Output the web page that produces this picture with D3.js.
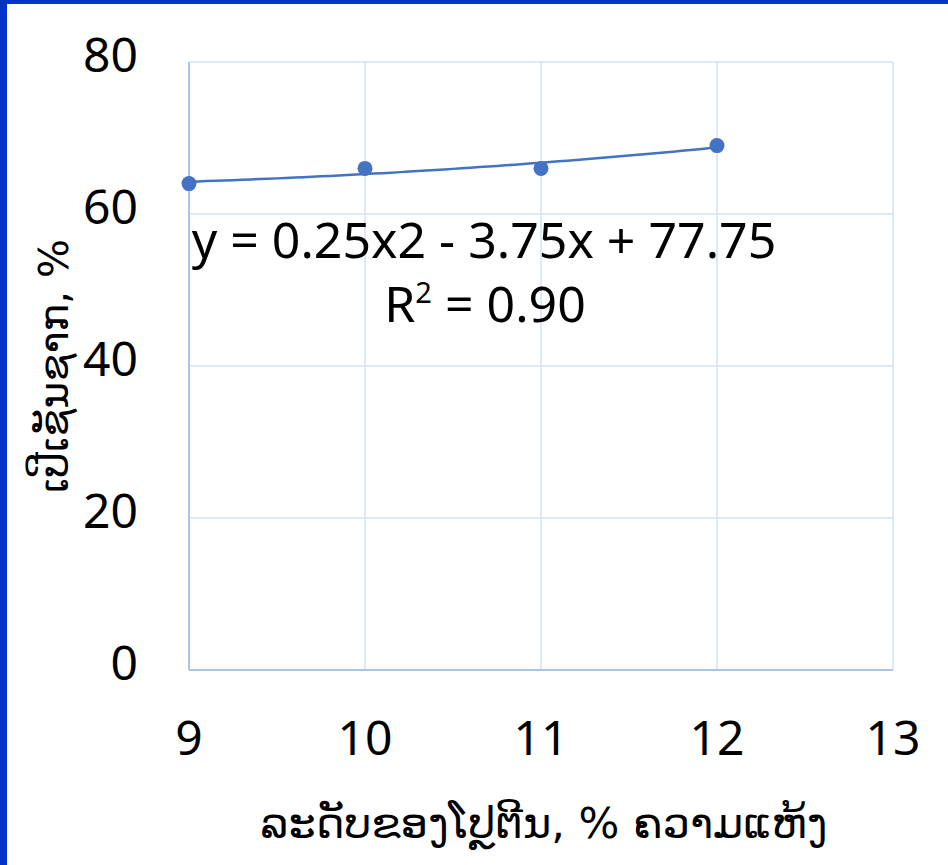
<!DOCTYPE html>
<html>
<head>
<meta charset="utf-8">
<script src="https://cdn.jsdelivr.net/npm/d3@7"></script>
<style>
  html, body { margin: 0; padding: 0; background: #fff; }
  svg { display: block; }
</style>
</head>
<body>
<div id="chart"></div>
<script>
// protein level (% dry matter) vs carcass percentage
const proteinLevels = [9, 10, 11, 12];
const carcassPct = [64, 66, 66, 69];
const xTicks = [9, 10, 11, 12, 13];
const yTicks = [0, 20, 40, 60, 80];
const xTitle = 'ລະດັບຂອງໂປຼຕີນ, % ຄວາມແຫ້ງ';
const yTitle = 'ເປີເຊັນຊາກ, %';

const width = 948, height = 865;
const margin = { top: 62, right: 55, bottom: 195, left: 189 };

const svg = d3.select('#chart').append('svg')
    .attr('width', width)
    .attr('height', height);

svg.append('rect').attr('width', width).attr('height', height).style('fill', '#fff');

// blue frame bits at left and top
svg.append('rect').attr('x', 0).attr('y', 0).attr('width', 7).attr('height', height).style('fill', '#0033cc');
svg.append('rect').attr('x', 0).attr('y', 0).attr('width', width).attr('height', 4).style('fill', '#0033cc');

const x = d3.scaleLinear().domain([9, 13]).range([margin.left, width - margin.right]);
const y = d3.scaleLinear().domain([0, 80]).range([height - margin.bottom, margin.top]);

// gridlines
svg.append('g').selectAll('line.h').data(yTicks.filter(d => d > 0)).enter().append('line')
    .attr('x1', x(9)).attr('x2', x(13))
    .attr('y1', d => y(d)).attr('y2', d => y(d))
    .style('stroke', '#d6e1f3').style('stroke-width', 1.5);

svg.append('g').selectAll('line.v').data(xTicks.filter(d => d > 9)).enter().append('line')
    .attr('x1', d => x(d)).attr('x2', d => x(d))
    .attr('y1', y(0)).attr('y2', y(80))
    .style('stroke', '#d6e1f3').style('stroke-width', 1.5);

// axis lines
svg.append('line').attr('x1', x(9)).attr('x2', x(9)).attr('y1', y(0)).attr('y2', y(80))
    .style('stroke', '#a9c5ec').style('stroke-width', 2);
svg.append('line').attr('x1', x(9)).attr('x2', x(13)).attr('y1', y(0)).attr('y2', y(0))
    .style('stroke', '#a9c5ec').style('stroke-width', 2);

// tick labels
svg.append('g').selectAll('text').data(yTicks).enter().append('text')
    .attr('x', 138)
    .attr('y', d => y(d) + 10)
    .attr('text-anchor', 'end')
    .style('font-family', '"Noto Sans", sans-serif')
    .style('font-size', '48px')
    .style('fill', '#000')
    .text(d => d);

svg.append('g').selectAll('text').data(xTicks).enter().append('text')
    .attr('x', d => x(d))
    .attr('y', 755)
    .attr('text-anchor', 'middle')
    .style('font-family', '"Noto Sans", sans-serif')
    .style('font-size', '48px')
    .style('fill', '#000')
    .text(d => d);

// quadratic least squares trendline
function polyFit2(xs, ys) {
    const n = xs.length;
    let s = [0, 0, 0, 0, 0], t = [0, 0, 0];
    for (let i = 0; i < n; i++) {
        for (let k = 0; k < 5; k++) s[k] += Math.pow(xs[i], k);
        for (let k = 0; k < 3; k++) t[k] += ys[i] * Math.pow(xs[i], k);
    }
    // solve 3x3 normal equations (Cramer)
    const A = [[s[0], s[1], s[2]], [s[1], s[2], s[3]], [s[2], s[3], s[4]]];
    const det = m => m[0][0] * (m[1][1] * m[2][2] - m[1][2] * m[2][1])
        - m[0][1] * (m[1][0] * m[2][2] - m[1][2] * m[2][0])
        + m[0][2] * (m[1][0] * m[2][1] - m[1][1] * m[2][0]);
    const D = det(A);
    const coef = [0, 1, 2].map(j => {
        const M = A.map((row, r) => row.map((v, c) => c === j ? t[r] : v));
        return det(M) / D;
    });
    return coef; // c0 + c1 x + c2 x^2
}

const c = polyFit2(proteinLevels, carcassPct);
const fit = v => c[0] + c[1] * v + c[2] * v * v;
const mean = d3.mean(carcassPct);
const ssRes = d3.sum(proteinLevels, (v, i) => Math.pow(carcassPct[i] - fit(v), 2));
const ssTot = d3.sum(carcassPct, v => Math.pow(v - mean, 2));
const r2 = 1 - ssRes / ssTot;

const curveX = d3.range(9, 12.0001, 0.05);
const line = d3.line().x(d => x(d)).y(d => y(fit(d)));

svg.append('path')
    .datum(curveX)
    .attr('d', line)
    .style('fill', 'none')
    .style('stroke', '#4472c4')
    .style('stroke-width', 2.5);

// data points
svg.append('g').selectAll('circle').data(proteinLevels).enter().append('circle')
    .attr('cx', d => x(d))
    .attr('cy', (d, i) => y(carcassPct[i]))
    .attr('r', 7.5)
    .style('fill', '#4472c4');

// equation label
const fmt = d3.format('.2f');
const eq = svg.append('text')
    .attr('x', 484)
    .attr('y', 258)
    .attr('text-anchor', 'middle')
    .style('font-family', '"Noto Sans", sans-serif')
    .style('font-size', '50px')
    .style('fill', '#000');
eq.text(`y = ${fmt(c[2])}x2 - ${fmt(-c[1])}x + ${fmt(c[0])}`);

const r2t = svg.append('text')
    .attr('x', 485)
    .attr('y', 322)
    .attr('text-anchor', 'middle')
    .style('font-family', '"Noto Sans", sans-serif')
    .style('font-size', '50px')
    .style('fill', '#000');
r2t.append('tspan').text('R');
r2t.append('tspan').attr('dy', -19).style('font-size', '29px').text('2');
r2t.append('tspan').attr('dy', 19).text(` = ${fmt(r2)}`);

// axis titles
svg.append('text')
    .attr('x', 544)
    .attr('y', 838)
    .attr('text-anchor', 'middle')
    .style('font-family', '"DejaVu Sans", sans-serif')
    .style('font-size', '43px')
    .style('fill', '#000')
    .text(xTitle);

svg.append('text')
    .attr('transform', `translate(68, ${y(40)}) rotate(-90)`)
    .attr('text-anchor', 'middle')
    .style('font-family', '"DejaVu Sans", sans-serif')
    .style('font-size', '41px')
    .style('fill', '#000')
    .text(yTitle);
</script>
</body>
</html>
